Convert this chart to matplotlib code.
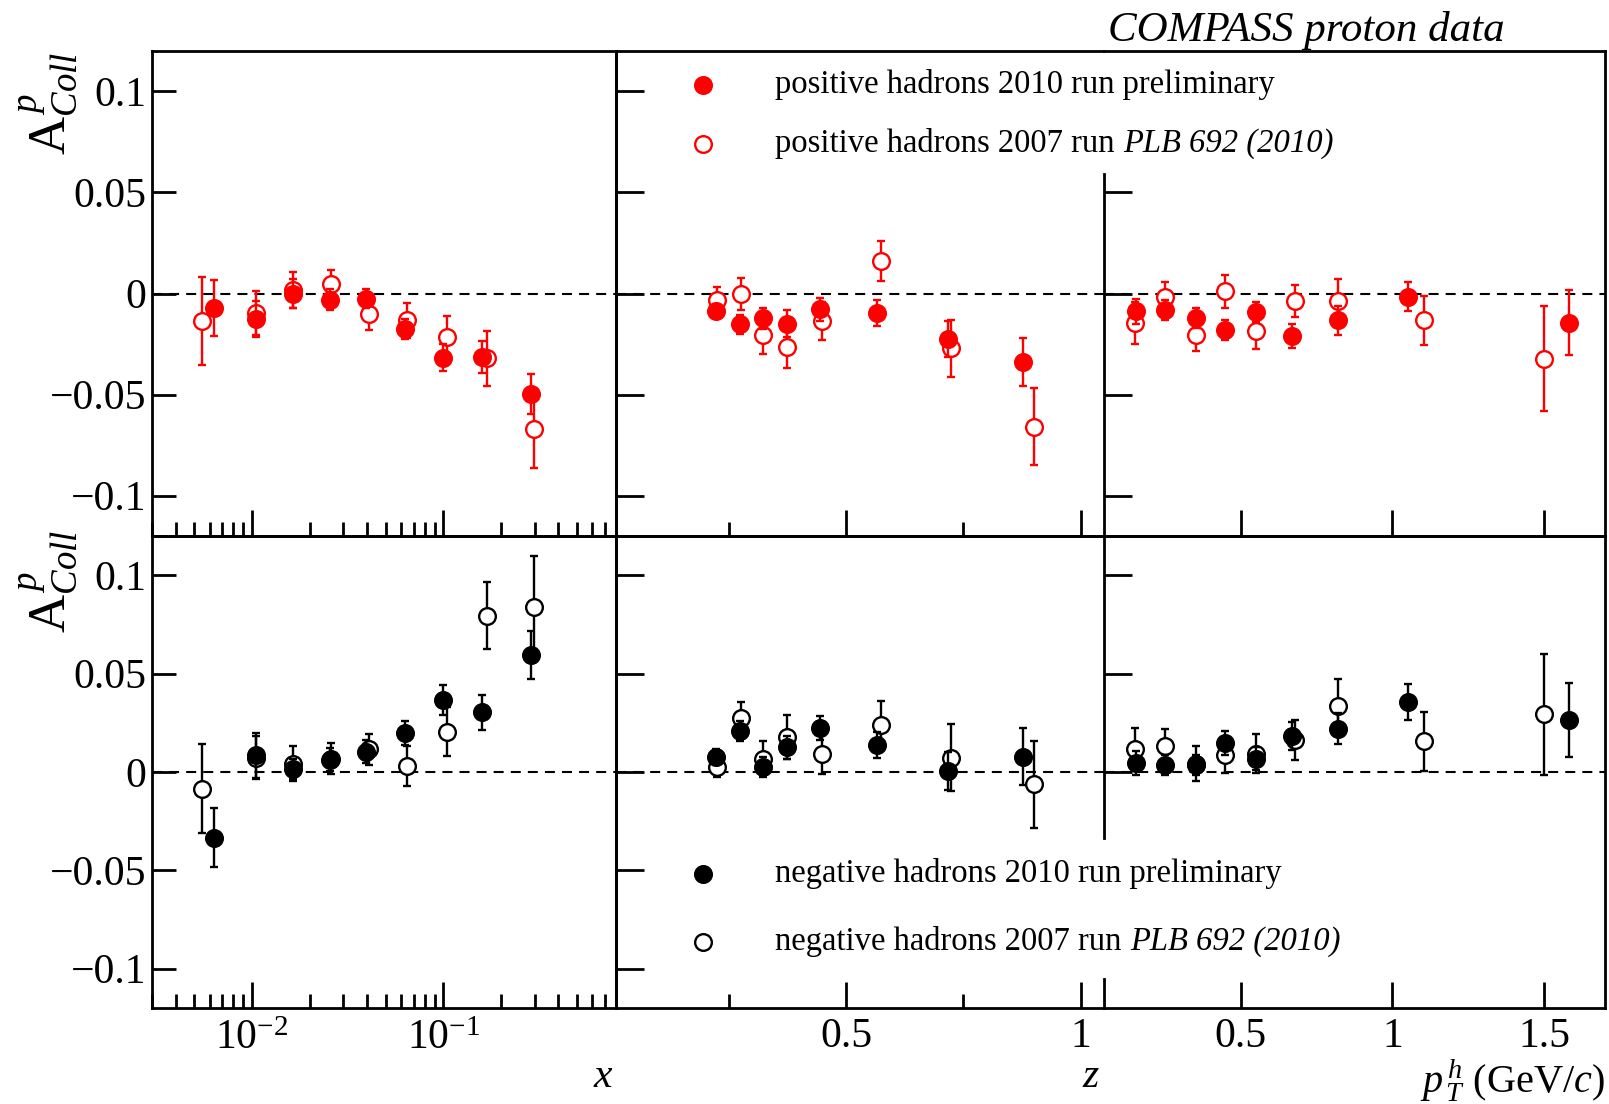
import matplotlib
matplotlib.use('Agg')
import matplotlib.pyplot as plt
from matplotlib.lines import Line2D
from matplotlib.ticker import FixedLocator, NullFormatter, FixedFormatter

plt.rcParams['font.family'] = ['Liberation Serif', 'DejaVu Serif']
plt.rcParams['mathtext.fontset'] = 'custom'
plt.rcParams['mathtext.rm'] = 'Liberation Serif'
plt.rcParams['mathtext.it'] = 'Liberation Serif:italic'
plt.rcParams['mathtext.bf'] = 'Liberation Serif:bold'

## bin positions
x_2010 = [0.0063, 0.0105, 0.0164, 0.0256, 0.0396, 0.0628, 0.100, 0.160, 0.286]
x_2007 = [0.0055, 0.0105, 0.0164, 0.0258, 0.041, 0.0646, 0.104, 0.169, 0.297]
z_2010 = [0.224, 0.274, 0.324, 0.374, 0.445, 0.565, 0.716, 0.876]
z_2007 = [0.225, 0.276, 0.324, 0.375, 0.448, 0.574, 0.723, 0.899]
pt_2010 = [0.155, 0.252, 0.352, 0.449, 0.55, 0.669, 0.82, 1.05, 1.58]
pt_2007 = [0.153, 0.252, 0.352, 0.449, 0.55, 0.679, 0.82, 1.104, 1.50]

## positive hadrons
pos_x_10 = [-0.0071, -0.0126, 0.0000, -0.0030, -0.0027, -0.0176, -0.0318, -0.0315, -0.0497]
pos_x_10_err = [0.014, 0.009, 0.007, 0.005, 0.0047, 0.005, 0.0066, 0.008, 0.0097]
pos_x_07 = [-0.0136, -0.0096, 0.0016, 0.0048, -0.0103, -0.0133, -0.0215, -0.0321, -0.0672]
pos_x_07_err = [0.022, 0.011, 0.009, 0.007, 0.0076, 0.0088, 0.0106, 0.0135, 0.019]
pos_z_10 = [-0.0086, -0.0152, -0.0123, -0.0149, -0.0079, -0.0095, -0.0224, -0.034]
pos_z_10_err = [0.0035, 0.0047, 0.0053, 0.0066, 0.0055, 0.0065, 0.009, 0.012]
pos_z_07 = [-0.003, -0.0002, -0.0207, -0.0265, -0.0136, 0.0162, -0.0272, -0.0659]
pos_z_07_err = [0.006, 0.0078, 0.009, 0.0105, 0.0096, 0.0099, 0.0142, 0.019]
pos_pt_10 = [-0.0088, -0.0083, -0.0123, -0.0179, -0.0092, -0.021, -0.0133, -0.0015, -0.0144]
pos_pt_10_err = [0.0063, 0.005, 0.005, 0.005, 0.005, 0.006, 0.007, 0.007, 0.016]
pos_pt_07 = [-0.0146, -0.0017, -0.0205, 0.001, -0.0184, -0.0036, -0.0036, -0.0133, -0.0323]
pos_pt_07_err = [0.0106, 0.0075, 0.008, 0.008, 0.009, 0.008, 0.011, 0.012, 0.026]

## negative hadrons
neg_x_10 = [-0.0334, 0.0084, 0.0016, 0.0063, 0.0104, 0.0198, 0.0366, 0.0303, 0.0595]
neg_x_10_err = [0.015, 0.0115, 0.005, 0.006, 0.006, 0.006, 0.0075, 0.009, 0.012]
neg_x_07 = [-0.0084, 0.0073, 0.0042, 0.0068, 0.0115, 0.0031, 0.0204, 0.0794, 0.084]
neg_x_07_err = [0.0225, 0.011, 0.009, 0.008, 0.008, 0.010, 0.0125, 0.017, 0.026]
neg_z_10 = [0.0078, 0.0209, 0.0026, 0.0125, 0.0225, 0.0136, 0.0005, 0.0078]
neg_z_10_err = [0.004, 0.005, 0.005, 0.006, 0.006, 0.0065, 0.0095, 0.0145]
neg_z_07 = [0.0026, 0.0277, 0.0068, 0.0178, 0.0089, 0.024, 0.0073, -0.0063]
neg_z_07_err = [0.005, 0.008, 0.009, 0.011, 0.010, 0.012, 0.017, 0.022]
neg_pt_10 = [0.0047, 0.0037, 0.0037, 0.0146, 0.0068, 0.0183, 0.022, 0.0355, 0.0264]
neg_pt_10_err = [0.006, 0.005, 0.005, 0.006, 0.006, 0.007, 0.008, 0.009, 0.019]
neg_pt_07 = [0.0115, 0.013, 0.0042, 0.0084, 0.0094, 0.0162, 0.0334, 0.0157, 0.0293]
neg_pt_07_err = [0.011, 0.009, 0.009, 0.009, 0.010, 0.010, 0.014, 0.015, 0.0306]

y_ticks = [-0.1, -0.05, 0, 0.05, 0.1]
y_labels = ['\u22120.1', '\u22120.05', '0', '0.05', '0.1']

W, H = 1609, 1104
fig = plt.figure(figsize=(W / 100, H / 100), dpi=100)

LW = 2.0
TICK_FS = 30
MS = 12


## axes placed in pixel coordinates of the reference
def px_axes(x0, x1, y0, y1):
    return fig.add_axes([x0 / W, 1 - y1 / H, (x1 - x0) / W, (y1 - y0) / H])


def draw(ax, xs10, a10, e10, xs07, a07, e07, color):
    ax.axhline(0, color='black', lw=1.5, ls=(0, (4.8, 3.4)), zorder=1)
    ax.errorbar(xs07, a07, yerr=e07, fmt='o', color=color, mfc='white', mec=color,
                ms=MS, mew=1.7, elinewidth=1.7, capsize=3, capthick=1.7, zorder=3)
    ax.errorbar(xs10, a10, yerr=e10, fmt='o', color=color, mfc=color, mec=color,
                ms=MS, mew=1.7, elinewidth=1.7, capsize=3, capthick=1.7, zorder=4)


rows = [(51, 536), (536, 1008)]
cols = [(152, 616), (616, 1104), (1104, 1605)]

axes = {}
for r, (y0, y1) in enumerate(rows):
    for c, (x0, x1) in enumerate(cols):
        ax = px_axes(x0, x1, y0, y1)
        ax.set_facecolor('none')
        ax.set_ylim(-0.12, 0.12)
        for s in ax.spines.values():
            s.set_linewidth(LW)
        axes[(r, c)] = ax

for r in range(2):
    color = 'red' if r == 0 else 'black'
    ax = axes[(r, 0)]
    if r == 0:
        draw(ax, x_2010, pos_x_10, pos_x_10_err, x_2007, pos_x_07, pos_x_07_err, color)
    else:
        draw(ax, x_2010, neg_x_10, neg_x_10_err, x_2007, neg_x_07, neg_x_07_err, color)
    ax.set_xscale('log')
    ax.set_xlim(0.003, 0.8)
    ax.xaxis.set_major_locator(FixedLocator([0.01, 0.1]))
    ax.xaxis.set_minor_locator(FixedLocator([k * 10.0 ** d for d in (-3, -2, -1) for k in range(2, 10)]))
    ax.xaxis.set_minor_formatter(NullFormatter())
    ax.xaxis.set_major_formatter(FixedFormatter([r'$10^{-2}$', r'$10^{-1}$']))
    ax.set_yticks(y_ticks)
    ax.set_yticklabels(y_labels)
    ax.tick_params(axis='y', direction='in', length=17, width=LW, labelsize=TICK_FS, pad=4,
                   left=True, right=False)
    ax.tick_params(axis='x', which='major', direction='in', length=19, width=LW,
                   labelsize=TICK_FS, pad=8, top=False, labelbottom=(r == 1))
    ax.tick_params(axis='x', which='minor', direction='in', length=10, width=LW, top=False)

    ax = axes[(r, 1)]
    if r == 0:
        draw(ax, z_2010, pos_z_10, pos_z_10_err, z_2007, pos_z_07, pos_z_07_err, color)
    else:
        draw(ax, z_2010, neg_z_10, neg_z_10_err, z_2007, neg_z_07, neg_z_07_err, color)
    ax.set_xlim(0.0106, 1.049)
    ax.xaxis.set_major_locator(FixedLocator([0.5, 1.0]))
    ax.xaxis.set_major_formatter(FixedFormatter(['0.5', '1']))
    ax.xaxis.set_minor_locator(FixedLocator([0.25, 0.75]))
    ax.spines['right'].set_visible(False)
    ax.set_yticks(y_ticks)
    ax.tick_params(axis='y', direction='in', length=20, width=LW, labelleft=False)
    ax.tick_params(axis='x', which='major', direction='in', length=19, width=LW,
                   labelsize=TICK_FS, pad=7, labelbottom=(r == 1))
    ax.tick_params(axis='x', which='minor', direction='in', length=10, width=LW)

    ax = axes[(r, 2)]
    if r == 0:
        draw(ax, pt_2010, pos_pt_10, pos_pt_10_err, pt_2007, pos_pt_07, pos_pt_07_err, color)
        ax.spines['left'].set_bounds(-0.12, 0.059)
        ax.set_yticks([-0.1, -0.05, 0, 0.05])
    else:
        draw(ax, pt_2010, neg_pt_10, neg_pt_10_err, pt_2007, neg_pt_07, neg_pt_07_err, color)
        ax.spines['left'].set_bounds(-0.0335, 0.12)
        ax.set_yticks([0, 0.05, 0.1])
        ax.plot([0, 0], [0, 29 / 472], transform=ax.transAxes, color='black', lw=LW,
                clip_on=False, zorder=5)
    ax.set_xlim(0.05, 1.7)
    ax.xaxis.set_major_locator(FixedLocator([0.5, 1.0, 1.5]))
    ax.xaxis.set_major_formatter(FixedFormatter(['0.5', '1', '1.5']))
    ax.tick_params(axis='y', direction='in', length=20, width=LW, labelleft=False)
    ax.tick_params(axis='x', which='major', direction='in', length=19, width=LW,
                   labelsize=TICK_FS, pad=7, labelbottom=(r == 1))

## y titles
ylab = r'$\mathrm{A}^{\,p}_{Coll}$'
fig.text(48 / W, 1 - 52 / H, ylab, rotation=90, ha='center', va='top', fontsize=38)
fig.text(48 / W, 1 - 530 / H, ylab, rotation=90, ha='center', va='top', fontsize=38)

## x titles
fig.text(603 / W, 1 - 1077 / H, r'$x$', ha='center', va='center', fontsize=30)
fig.text(1091 / W, 1 - 1077 / H, r'$z$', ha='center', va='center', fontsize=30)
fig.text(1605 / W, 1 - 1093 / H, r'$p_{\,T}^{\,h}$ (GeV/$c$)', ha='right', va='baseline', fontsize=29)

fig.text(1505 / W, 1 - 31 / H, 'COMPASS proton data', ha='right', va='center',
         fontsize=31, style='italic')

## legends
LEG_FS = 23.5
entries = [
    (85, 'red', 'red', 'positive hadrons 2010 run preliminary', ''),
    (144, 'red', 'white', 'positive hadrons 2007 run', 'PLB 692 (2010)'),
    (874, 'black', 'black', 'negative hadrons 2010 run preliminary', ''),
    (942, 'black', 'white', 'negative hadrons 2007 run', 'PLB 692 (2010)'),
]
for yy, ec, fc, label, ref in entries:
    fig.add_artist(Line2D([703 / W], [1 - yy / H], marker='o', ms=MS, mew=1.7,
                          mec=ec, mfc=fc, transform=fig.transFigure))
    t = fig.text(775 / W, 1 - (yy + 8) / H, label, ha='left', va='baseline', fontsize=LEG_FS)
    if ref:
        plt.annotate(ref, xy=(1, 0), xycoords=t, xytext=(6, 0), textcoords='offset points',
                     ha='left', va='bottom', fontsize=LEG_FS, style='italic')

fig.savefig('out.png', dpi=100)
